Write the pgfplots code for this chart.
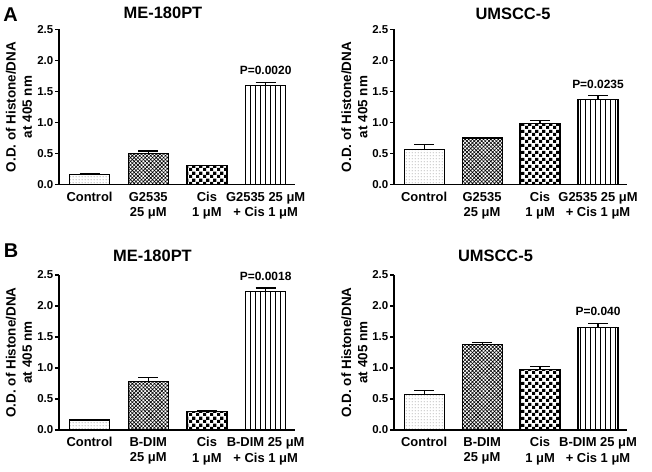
\documentclass[border=0pt]{standalone}
\usepackage{fontspec}
\setmainfont{Liberation Sans}
\usepackage{pgfplots}
\pgfplotsset{compat=1.18}
\usetikzlibrary{patterns,patterns.meta}

\tikzdeclarepattern{
  name=checks,
  type=uncolored,
  bounding box={(0,0) and (7bp,7bp)},
  tile size={(7bp,7bp)},
  code={\fill (0,0) rectangle (3.5bp,3.5bp); \fill (3.5bp,3.5bp) rectangle (7bp,7bp);}
}
\tikzdeclarepattern{
  name=finedots,
  type=uncolored,
  bounding box={(0,0) and (3bp,3bp)},
  tile size={(3bp,3bp)},
  code={\fill (1.5bp,1.5bp) circle (0.6bp);}
}

\newcommand{\fs}[1]{\fontsize{#1}{1.2\dimexpr #1pt\relax}\selectfont\bfseries}
\tikzset{pval/.style={font=\fs{12}, anchor=south, yshift=4bp},
  ttl/.style={font=\fs{16.5}, inner sep=0pt}}

\pgfplotsset{
  panel/.style={
    scale only axis, width=#1, height=155bp,
    xmin=-0.52, xmax=3.5, ymin=0, ymax=2.5,
    axis lines*=left, enlargelimits=false, clip=false,
    axis line style={line width=1.3bp, black},
    ytick={0,0.5,...,2.5},
    yticklabel style={font=\fs{11.5}, inner xsep=1.5bp,
      /pgf/number format/.cd, fixed, fixed zerofill, precision=1, assume math mode=true},
    ytick style={line width=1.2bp, black},
    major tick length=4bp, tick align=outside,
    xtick={0,1,2,3}, xtick style={draw=none},
    x tick label style={align=center, font=\fs{13}},
    ylabel={O.D. of Histone/DNA\\at 405 nm},
    ylabel style={align=center, font=\fs{13.5},
      at={(axis description cs:-0.17,0.5)}, anchor=center},
  },
  bars/.style={ybar, bar width=40bp, bar shift=0pt, draw=black, line width=1.2bp,
    error bars/y dir=plus, error bars/y explicit,
    error bars/error bar style={line width=1.2bp, black},
    error bars/error mark options={rotate=90, mark size=10bp, line width=1.2bp, black}},
  ctrl/.style={bars, pattern=finedots, pattern color=gray},
  drug/.style={bars, pattern={Hatch[angle=45,distance=2.6bp,line width=0.6bp]}, pattern color=black},
  cis/.style={bars, pattern=checks, pattern color=black},
  combo/.style={bars, pattern={Lines[angle=90,distance=5bp,line width=0.7bp]}, pattern color=black},
}

\begin{document}
\begin{tikzpicture}
\path[use as bounding box] (0,0) rectangle (652bp,472bp);

% A, ME-180PT
\begin{axis}[panel=236bp, at={(59bp,287.5bp)}, anchor=south west,
  xticklabels={Control, {G2535\\25 μM}, {Cis\\1 μM}, {G2535 25 μM\\+ Cis 1 μM}}]
  \addplot[ctrl] coordinates {(0,0.16) +- (0,0.01)};
  \addplot[drug] coordinates {(1,0.50) +- (0,0.04)};
  \addplot[cis] coordinates {(2,0.30) +- (0,0.01)};
  \addplot[combo] coordinates {(3,1.60) +- (0,0.05)};
  \node[pval] at (axis cs:3,1.65) {P=0.0020};
\end{axis}

% A, UMSCC-5
\begin{axis}[panel=233bp, at={(394bp,287.5bp)}, anchor=south west,
  xticklabels={Control, {G2535\\25 μM}, {Cis\\1 μM}, {G2535 25 μM\\+ Cis 1 μM}}]
  \addplot[ctrl] coordinates {(0,0.57) +- (0,0.07)};
  \addplot[drug] coordinates {(1,0.75) +- (0,0.01)};
  \addplot[cis] coordinates {(2,0.98) +- (0,0.05)};
  \addplot[combo] coordinates {(3,1.37) +- (0,0.06)};
  \node[pval] at (axis cs:3,1.43) {P=0.0235};
\end{axis}

% B, ME-180PT
\begin{axis}[panel=236bp, at={(59bp,42bp)}, anchor=south west,
  xticklabels={Control, {B-DIM\\25 μM}, {Cis\\1 μM}, {B-DIM 25 μM\\+ Cis 1 μM}}]
  \addplot[ctrl] coordinates {(0,0.16) +- (0,0.01)};
  \addplot[drug] coordinates {(1,0.78) +- (0,0.07)};
  \addplot[cis] coordinates {(2,0.30) +- (0,0.01)};
  \addplot[combo] coordinates {(3,2.24) +- (0,0.05)};
  \node[pval] at (axis cs:3,2.29) {P=0.0018};
\end{axis}

% B, UMSCC-5
\begin{axis}[panel=233bp, at={(394bp,42bp)}, anchor=south west,
  xticklabels={Control, {B-DIM\\25 μM}, {Cis\\1 μM}, {B-DIM 25 μM\\+ Cis 1 μM}}]
  \addplot[ctrl] coordinates {(0,0.57) +- (0,0.07)};
  \addplot[drug] coordinates {(1,1.38) +- (0,0.03)};
  \addplot[cis] coordinates {(2,0.98) +- (0,0.05)};
  \addplot[combo] coordinates {(3,1.65) +- (0,0.07)};
  \node[pval] at (axis cs:3,1.72) {P=0.040};
\end{axis}

\node[ttl] at (163bp,459bp) {ME-180PT};
\node[ttl] at (513bp,458.5bp) {UMSCC-5};
\node[ttl] at (152.5bp,216bp) {ME-180PT};
\node[ttl] at (495.5bp,216bp) {UMSCC-5};
\node[font=\fs{20}] at (10.5bp,457bp) {A};
\node[font=\fs{20}] at (11bp,221bp) {B};
\end{tikzpicture}
\end{document}
